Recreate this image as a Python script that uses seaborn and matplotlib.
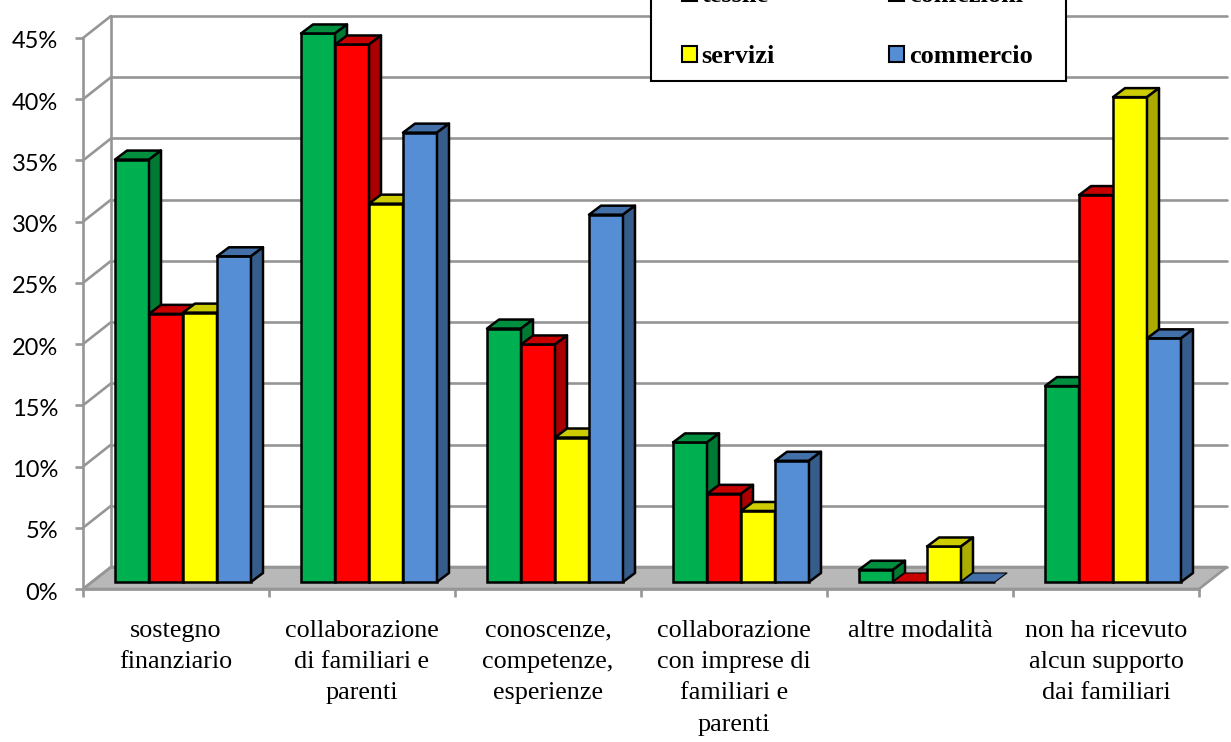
import matplotlib
matplotlib.use("Agg")
import matplotlib.pyplot as plt
from matplotlib.patches import Patch, Polygon, Rectangle
from matplotlib.transforms import Affine2D, IdentityTransform
import pandas as pd
import seaborn as sns

# Survey shares (%) per type of family support and business sector
categories = [
    "sostegno\nfinanziario",
    "collaborazione\ndi familiari e\nparenti",
    "conoscenze,\ncompetenze,\nesperienze",
    "collaborazione\ncon imprese di\nfamiliari e\nparenti",
    "altre modalità",
    "non ha ricevuto\nalcun supporto\ndai familiari",
]
sectors = ["tessile", "confezioni", "servizi", "commercio"]
tessile = [34.5, 44.8, 20.7, 11.4, 1.0, 16.0]
confezioni = [21.9, 43.9, 19.4, 7.2, 0.0, 31.6]
servizi = [22.0, 30.9, 11.8, 5.8, 2.9, 39.6]
commercio = [26.6, 36.7, 30.0, 9.9, 0.0, 19.9]
y_ticks = [0, 5, 10, 15, 20, 25, 30, 35, 40, 45]

front_colors = ["#00B050", "#FF0000", "#FFFF00", "#558ED5"]
top_colors = ["#008F3F", "#C80000", "#CCCC00", "#4470AA"]
side_colors = ["#007A33", "#A80000", "#ABAB00", "#365C8C"]
GRID = "#969696"
FLOOR = "#B8B8B8"
EDGE = 1.8
GRID_W = 1.9

W, H = 1231, 742
fig = plt.figure(figsize=(W / 100, H / 100), dpi=100, facecolor="white")
sns.set_style("white")
serif = "Liberation Serif"
ax = fig.add_axes([83 / W, (H - 589) / H, (1199 - 83) / W, (589 - 38) / H])

df = pd.DataFrame({
    "modalita": categories * 4,
    "settore": [s for s in sectors for _ in categories],
    "quota": tessile + confezioni + servizi + commercio,
})
sns.barplot(
    data=df, x="modalita", y="quota", hue="settore", hue_order=sectors,
    palette=front_colors, saturation=1, width=0.731, gap=0, dodge=True,
    edgecolor="black", linewidth=EDGE, legend=False, ax=ax,
)
ax.set_xlim(-0.5, 5.5)
ax.set_ylim(0, 45)
ax.set_xlabel("")
ax.set_ylabel("")
ax.patch.set_alpha(0)

# Pixel offsets of the oblique projection
WALL = (28, 22)    # depth of the chart box
SHIFT = (7, 7)     # bars stand in the middle of the floor
DEPTH = (12, 9)    # depth of a single bar

wall_tf = ax.transData + Affine2D().translate(*WALL)
to_px = ax.transData.transform
x0, x1 = ax.get_xlim()

# Floor
fl = [to_px((x0, 0)), to_px((x1, 0))]
floor_pts = [fl[0], fl[1], fl[1] + WALL, fl[0] + WALL]
ax.add_patch(Polygon(floor_pts, closed=True, transform=IdentityTransform(),
                     facecolor=FLOOR, edgecolor=GRID, linewidth=GRID_W,
                     zorder=1, clip_on=False))

# Back wall gridlines with their diagonals on the side wall
line_kw = dict(color=GRID, linewidth=GRID_W, clip_on=False, zorder=1.5)
for t in y_ticks:
    ax.plot([x0, x1], [t, t], transform=wall_tf, **line_kw)
    p = to_px((x0, t))
    ax.plot([p[0], p[0] + WALL[0]], [p[1], p[1] + WALL[1]],
            transform=IdentityTransform(), **line_kw)
ax.plot([x0, x0], [0, 45], transform=wall_tf, **line_kw)

# Bars: front faces shifted off the axis plane, then top and side faces
bar_tf = ax.transData + Affine2D().translate(*SHIFT)
items = []
for hue_idx, container in enumerate(ax.containers):
    for bar in container:
        items.append((bar.get_x(), hue_idx, bar))
items.sort(key=lambda it: it[0])
z = 3.0
for _, hue_idx, bar in items:
    bar.set_transform(bar_tf)
    bar.set_clip_on(False)
    h = bar.get_height()
    xa, xb = bar.get_x(), bar.get_x() + bar.get_width()
    a = bar_tf.transform((xa, h))
    b = bar_tf.transform((xb, h))
    c = bar_tf.transform((xb, 0))
    bar.set_zorder(z)
    top = Polygon([a, b, b + DEPTH, a + DEPTH], closed=True,
                  transform=IdentityTransform(), facecolor=top_colors[hue_idx],
                  edgecolor="black", linewidth=EDGE if h > 0 else 0.8,
                  joinstyle="round", clip_on=False, zorder=z + 0.1)
    ax.add_patch(top)
    if h > 0:
        side = Polygon([c, b, b + DEPTH, c + DEPTH], closed=True,
                       transform=IdentityTransform(), facecolor=side_colors[hue_idx],
                       edgecolor="black", linewidth=EDGE,
                       joinstyle="round", clip_on=False, zorder=z + 0.2)
        ax.add_patch(side)
    z += 1

# Axes and tick labels
for name in ("top", "right"):
    ax.spines[name].set_visible(False)
for name in ("left", "bottom"):
    ax.spines[name].set_color(GRID)
    ax.spines[name].set_linewidth(GRID_W)
    ax.spines[name].set_zorder(2)

ax.set_yticks(y_ticks)
ax.set_yticklabels([f"{t}%" for t in y_ticks], fontfamily="Lato", fontsize=17, color="black")
ax.tick_params(axis="y", left=True, length=6, width=GRID_W, color=GRID, pad=12)
for label in ax.get_yticklabels():
    label.set_transform(label.get_transform() + Affine2D().translate(0, -2))

ax.set_xticks([i - 0.5 for i in range(len(categories) + 1)])
ax.set_xticklabels([""] * (len(categories) + 1))
ax.tick_params(axis="x", which="major", bottom=True, length=6, width=GRID_W, color=GRID)
ax.set_xticks(range(len(categories)), minor=True)
ax.set_xticklabels(categories, minor=True, fontfamily=serif, fontsize=18.8,
                   linespacing=1.55, color="black")
ax.tick_params(axis="x", which="minor", bottom=False, length=0, pad=22)

# Legend box runs past the upper edge of the figure
ax.add_patch(Rectangle((651 / W, (H - 81) / H), 415 / W, 100 / H,
                       transform=fig.transFigure, facecolor="white", edgecolor="black",
                       linewidth=1.5, clip_on=False, zorder=49))
handles = [Patch(facecolor=c, edgecolor="black", linewidth=1.5, label=s)
           for c, s in zip(front_colors, sectors)]
legend = ax.legend(
    handles=[handles[0], handles[2], handles[1], handles[3]],
    labels=[sectors[0], sectors[2], sectors[1], sectors[3]],
    ncol=2, loc="lower left", bbox_to_anchor=(682 / W, (H - 68) / H),
    bbox_transform=fig.transFigure, borderaxespad=0, borderpad=0, frameon=False,
    handlelength=0.57, handleheight=0.57, handletextpad=0.17,
    labelspacing=1.44, columnspacing=4.34, labelcolor="black",
    prop={"family": serif, "weight": "bold", "size": 19},
)
legend.set_zorder(50)

fig.savefig("out.png", dpi=100)
